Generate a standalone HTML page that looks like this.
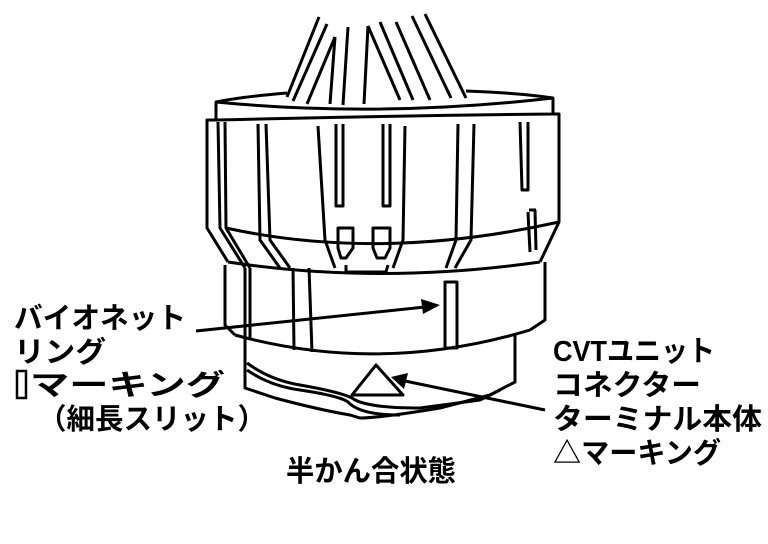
<!DOCTYPE html>
<html><head><meta charset="utf-8"><style>
html,body{margin:0;padding:0;background:#fff;}
svg{display:block}
text{font-family:"Liberation Sans","Noto Sans CJK JP",sans-serif;font-size:29px;font-weight:700;fill:#000}
</style></head><body>
<svg width="768" height="544" viewBox="0 0 768 544" xmlns="http://www.w3.org/2000/svg">
<g fill="none" stroke="#000" stroke-width="3" stroke-linejoin="round">
<!-- wires -->
<line x1="319" y1="17" x2="287" y2="97"/>
<line x1="327" y1="24" x2="293" y2="101"/>
<line x1="335" y1="37" x2="307" y2="104"/>
<line x1="335" y1="37" x2="330" y2="104"/>
<line x1="348" y1="27" x2="343" y2="105"/>
<line x1="368" y1="26" x2="364" y2="104"/>
<line x1="368" y1="26" x2="400" y2="100"/>
<line x1="380" y1="22" x2="413" y2="100"/>
<line x1="396" y1="22" x2="430" y2="100"/>
<line x1="412" y1="16" x2="451" y2="98"/>
<line x1="425" y1="14" x2="466" y2="98"/>
<!-- cap -->
<path d="M287 93 Q240 97 216 102 L216 120 Q380 116 553 114 L553 98 Q520 93 466 91"/>
<path d="M216 102 Q380 118 553 98"/>
<!-- upper body -->
<path d="M216 120 L207 120 L207 228 L228 262"/>
<path d="M553 114 L559 114 L559 222 L540 262"/>
<path d="M218 122 L220 228 L245 268"/>
<path d="M225 122 L226 228 L250 268"/>
<path d="M258 124 L260 240 L280 268"/>
<path d="M266 124 L270 240 L290 268"/>
<path d="M318 126 L325 240 L335 268"/>
<path d="M336 124 L336 206 L343 206 L343 124"/>
<path d="M383 124 L383 206 L390 206 L390 124"/>
<path d="M405 126 L403 240 L393 268"/>
<path d="M458 124 L456 240 L446 268"/>
<path d="M474 124 L471 240 L455 268"/>
<path d="M520 122 L522 190 L528 190 L528 122"/>
<path d="M528 212 L530 252 M535 210 L536 250"/>
<path d="M529 210 L536 210"/>
<!-- hook shapes -->
<path d="M338 228 L353 228 L353 248 L346 258 L341 258 L338 248 Z"/>
<path d="M373 228 L390 228 L390 248 L385 258 L377 258 L373 248 Z"/>
<path d="M346 265 L346 272 L386 272 L388 265"/>
<!-- middle ellipse lines -->
<path d="M226 228 Q380 262 559 222"/>
<path d="M228 262 Q380 285 540 262"/>
<!-- middle body -->
<path d="M225 265 L225 325 L235 335 M545 262 L545 320 L530 330"/>
<path d="M245 268 L245 340 M250 268 L250 340"/>
<path d="M293 268 L294 350 M309 268 L312 352"/>
<path d="M235 335 Q380 375 530 330"/>
<rect x="445" y="282" width="12" height="66"/>
<!-- lower ring -->
<path d="M245 340 L245 388 L275 398 Q320 410 350 415 L360 418 Q380 418 440 408 L490 395 L515 382 L515 335"/>
<path d="M247 363 Q270 380 300 385 Q340 392 352 398 Q365 408 420 408 L480 400 L500 390"/>
<path d="M247 370 Q270 386 300 390 Q340 396 348 402 Q360 415 400 415"/>
<path d="M376 365 L352 395 L403 395 Z"/>
</g>
<!-- arrows -->
<g stroke="#000" stroke-width="3">
<line x1="196" y1="331" x2="425" y2="307"/>
<line x1="545" y1="410" x2="405" y2="381"/>
</g>
<path d="M440 305 L421 299 L423 314 Z" fill="#000"/>
<path d="M391 377 L408 373 L404 389 Z" fill="#000"/>
<rect x="17" y="371" width="9" height="27" fill="none" stroke="#000" stroke-width="2.5"/>
<g>
<text x="14" y="328" textLength="172" lengthAdjust="spacingAndGlyphs">バイオネット</text>
<text x="14" y="362" textLength="92" lengthAdjust="spacingAndGlyphs">リング</text>
<text x="30" y="395" textLength="195" lengthAdjust="spacingAndGlyphs">マーキング</text>
<text x="38" y="429" textLength="228" lengthAdjust="spacingAndGlyphs">（細長スリット）</text>
<text x="553" y="361" textLength="162" lengthAdjust="spacingAndGlyphs">CVTユニット</text>
<text x="553" y="395" textLength="148" lengthAdjust="spacingAndGlyphs">コネクター</text>
<text x="553" y="429" textLength="209" lengthAdjust="spacingAndGlyphs">ターミナル本体</text>
<text x="553" y="463" textLength="168" lengthAdjust="spacingAndGlyphs">△マーキング</text>
<text x="286" y="481" textLength="170" lengthAdjust="spacingAndGlyphs">半かん合状態</text>
</g>
</svg>
</body></html>
